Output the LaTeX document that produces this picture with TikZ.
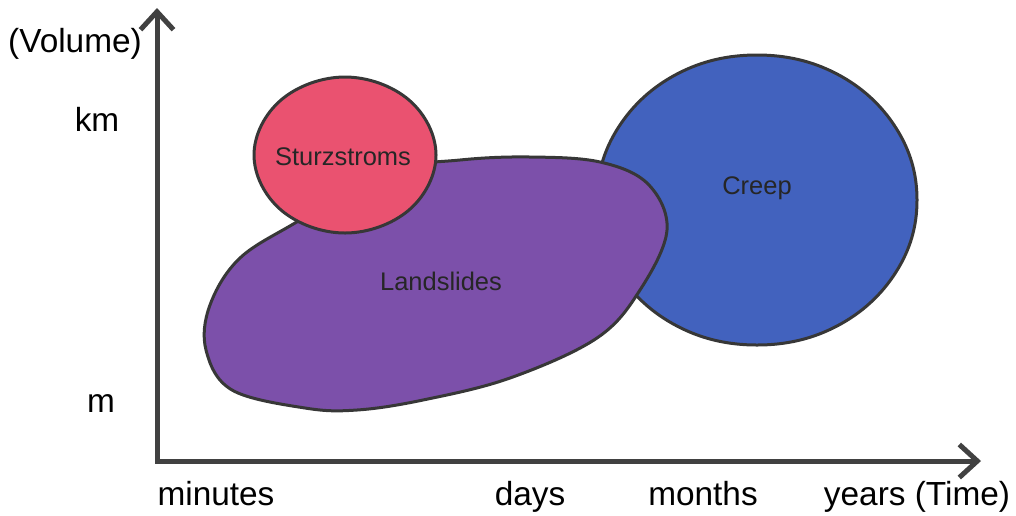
\documentclass[tikz,border=0pt]{standalone}
\usepackage{fontspec}
\setmainfont{Liberation Sans}
\usepackage{xcolor}
\usepackage{tikz}
\usetikzlibrary{arrows.meta}
\definecolor{sturzfill}{RGB}{234,82,112}
\definecolor{landfill}{RGB}{124,80,170}
\definecolor{creepfill}{RGB}{66,98,190}
\definecolor{blobedge}{RGB}{55,55,55}
\definecolor{axisgray}{RGB}{65,65,65}
\tikzset{
  axisline/.style = {line width=0.1cm, draw=axisgray, miter limit=10,
                     {Straight Barb[length=3.6mm,width=6.6mm]}-{Straight Barb[length=3.6mm,width=6.6mm]}},
  blob/.style     = {line width=0.06cm, draw=blobedge, line join=round},
  axislbl/.style  = {font=\fontsize{19}{22}\selectfont, inner sep=0pt, anchor=base},
  bloblbl/.style  = {font=\fontsize{14.5}{17}\selectfont, text=black!85, inner sep=0pt},
}

\begin{document}
\begin{tikzpicture}[x=0.02cm, y=-0.02cm]
  \useasboundingbox (0,0) rectangle (1016,515);

  % the three regions, back to front
  \draw[blob, fill=creepfill] plot[smooth cycle, tension=0.65] coordinates {
    (917,200) (896,128) (837,74) (757,55) (677,74) (618,128) (597,200)
    (618,272) (677,326) (757,345) (837,326) (896,272)};
  \draw[blob, fill=landfill] plot[smooth cycle, tension=0.6] coordinates {
    (240,258) (300,220) (380,172) (460,160) (530,157) (600,162) (648,184)
    (667,230) (640,290) (597,338) (510,378) (423,400) (357,410) (305,408)
    (232,390) (206,350) (210,305)};
  \draw[blob, fill=sturzfill] plot[smooth cycle, tension=0.65] coordinates {
    (436,155) (409,100) (345,77) (281,100) (254,155) (281,210) (345,233) (409,210)};

  \node[bloblbl] (creep) at (757,188) {Creep};
  \node[bloblbl] (land)  at (441,281) {Landslides};
  \node[bloblbl] (sturz) at (343,157) {Sturzstroms};

  % axes
  \coordinate (origin) at (157,461);
  \coordinate (ytip)   at (157,8);
  \coordinate (xtip)   at (981,461);
  \draw[axisline] (xtip) -- (origin) -- (ytip);

  \node[axislbl] (vol)     at (75,52)   {(Volume)};
  \node[axislbl] (km)      at (97,131)  {km};
  \node[axislbl] (m)       at (101,412) {m};
  \node[axislbl] (minutes) at (216,505) {minutes};
  \node[axislbl] (days)    at (530,505) {days};
  \node[axislbl] (months)  at (703,505) {months};
  \node[axislbl] (years)   at (917,505) {years (Time)};
\end{tikzpicture}
\end{document}
